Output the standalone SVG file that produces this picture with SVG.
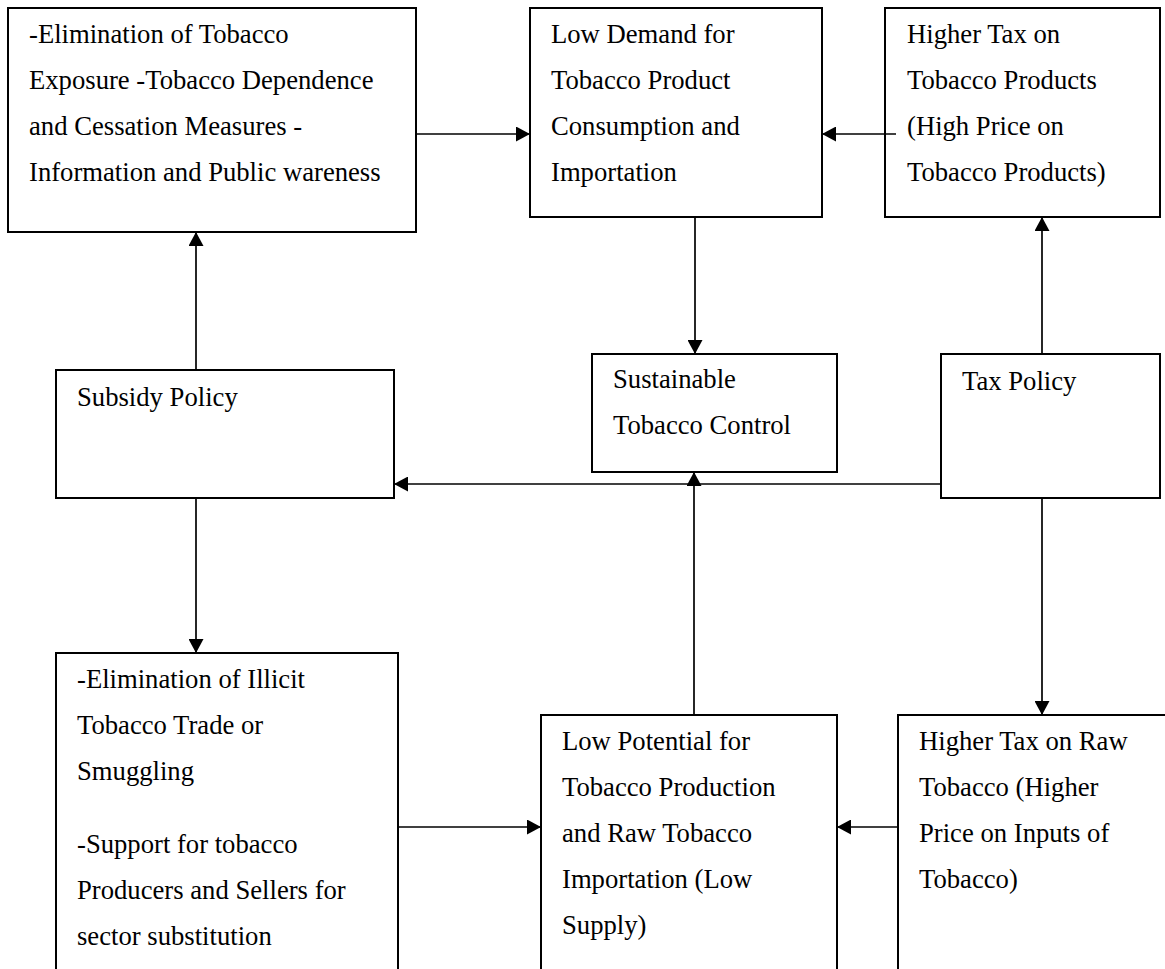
<svg xmlns="http://www.w3.org/2000/svg" width="1165" height="969" viewBox="0 0 1165 969">
<style>
.box{fill:#fff;stroke:#000;stroke-width:2}
.t{font-family:"Liberation Serif","Times New Roman",serif;font-size:26.67px;fill:#000}
.c{fill:none;stroke:#000;stroke-width:1.7}
</style>
<defs>
<marker id="ah" markerUnits="userSpaceOnUse" markerWidth="15" markerHeight="15" refX="14" refY="7.5" orient="auto">
<path d="M0,0 L14,7.5 L0,15 z" fill="#000"/>
</marker>
</defs>
<rect width="1165" height="969" fill="#fff"/>
<g id="n1">
<rect class="box" x="8" y="8" width="408" height="224"/>
<text class="t" x="29" y="43">-Elimination of Tobacco</text>
<text class="t" x="29" y="89">Exposure -Tobacco Dependence</text>
<text class="t" x="29" y="135">and Cessation Measures -</text>
<text class="t" x="29" y="181">Information and Public wareness</text>
</g>
<g id="n2">
<rect class="box" x="530" y="8" width="292" height="209"/>
<text class="t" x="551" y="43">Low Demand for</text>
<text class="t" x="551" y="89">Tobacco Product</text>
<text class="t" x="551" y="135">Consumption and</text>
<text class="t" x="551" y="181">Importation</text>
</g>
<g id="n3">
<rect class="box" x="885" y="8" width="275" height="209"/>
<text class="t" x="907" y="43">Higher Tax on</text>
<text class="t" x="907" y="89">Tobacco Products</text>
<text class="t" x="907" y="135">(High Price on</text>
<text class="t" x="907" y="181">Tobacco Products)</text>
</g>
<g id="n4">
<rect class="box" x="56" y="370" width="338" height="128"/>
<text class="t" x="77" y="406">Subsidy Policy</text>
</g>
<g id="n5">
<rect class="box" x="592" y="354" width="245" height="118"/>
<text class="t" x="613" y="388">Sustainable</text>
<text class="t" x="613" y="434">Tobacco Control</text>
</g>
<g id="n6">
<rect class="box" x="941" y="354" width="219" height="144"/>
<text class="t" x="962" y="390">Tax Policy</text>
</g>
<g id="n7">
<rect class="box" x="56" y="653" width="342" height="340"/>
<text class="t" x="77" y="688">-Elimination of Illicit</text>
<text class="t" x="77" y="734">Tobacco Trade or</text>
<text class="t" x="77" y="780">Smuggling</text>
<text class="t" x="77" y="853">-Support for tobacco</text>
<text class="t" x="77" y="899">Producers and Sellers for</text>
<text class="t" x="77" y="945">sector substitution</text>
</g>
<g id="n8">
<rect class="box" x="541" y="715" width="296" height="280"/>
<text class="t" x="562" y="750">Low Potential for</text>
<text class="t" x="562" y="796">Tobacco Production</text>
<text class="t" x="562" y="842">and Raw Tobacco</text>
<text class="t" x="562" y="888">Importation (Low</text>
<text class="t" x="562" y="934">Supply)</text>
</g>
<g id="n9">
<rect class="box" x="898" y="715" width="290" height="280"/>
<text class="t" x="919" y="750">Higher Tax on Raw</text>
<text class="t" x="919" y="796">Tobacco (Higher</text>
<text class="t" x="919" y="842">Price on Inputs of</text>
<text class="t" x="919" y="888">Tobacco)</text>
</g>
<g id="connectors">
<path class="c" d="M416,134 H530" marker-end="url(#ah)"/>
<path class="c" d="M896,134 H822" marker-end="url(#ah)"/>
<path class="c" d="M695,217 V354" marker-end="url(#ah)"/>
<path class="c" d="M1042,354 V217" marker-end="url(#ah)"/>
<path class="c" d="M196,370 V232" marker-end="url(#ah)"/>
<path class="c" d="M941,484 H394" marker-end="url(#ah)"/>
<path class="c" d="M694,715 V472" marker-end="url(#ah)"/>
<path class="c" d="M196,498 V653" marker-end="url(#ah)"/>
<path class="c" d="M1042,498 V715" marker-end="url(#ah)"/>
<path class="c" d="M398,827 H541" marker-end="url(#ah)"/>
<path class="c" d="M898,827 H837" marker-end="url(#ah)"/>
</g>
</svg>
